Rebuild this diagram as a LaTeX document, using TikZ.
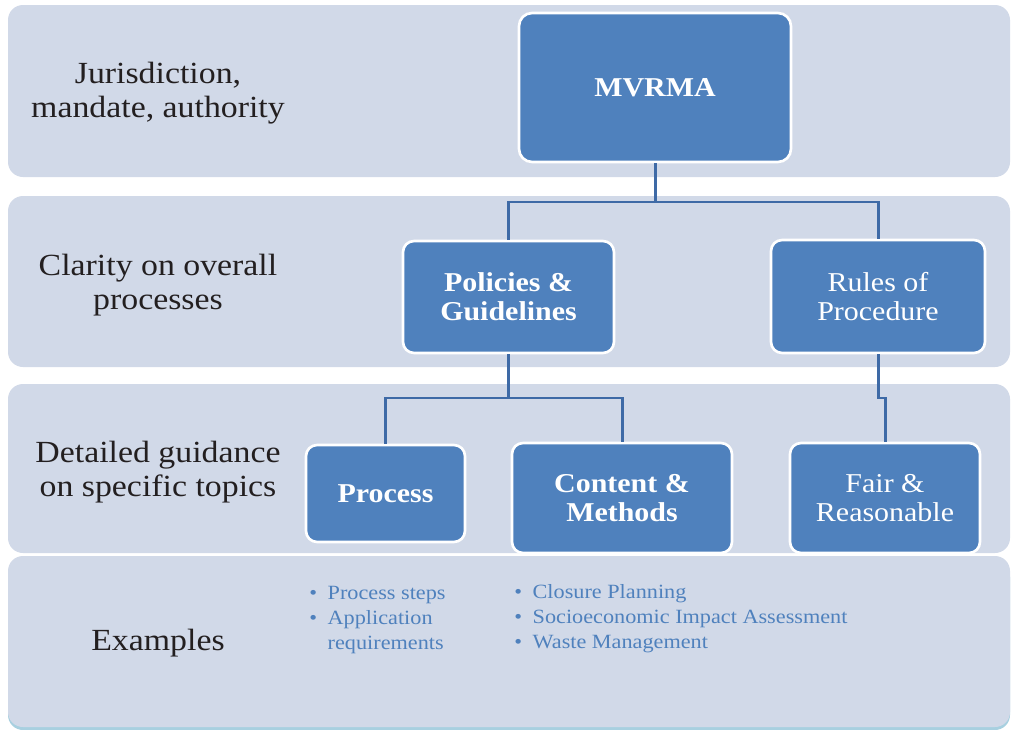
\documentclass[tikz,border=0pt]{standalone}
\usepackage{fontspec}
\setmainfont[FakeStretch=1.1]{Liberation Serif}
\usetikzlibrary{calc}
\definecolor{bandfill}{RGB}{209,217,232}
\definecolor{boxblue}{RGB}{79,129,189}
\definecolor{linkblue}{RGB}{62,106,166}
\definecolor{txtdark}{RGB}{35,31,32}
\definecolor{edgecyan}{RGB}{168,208,224}
\tikzset{band/.style={fill=bandfill,rounded corners=.3cm},
unit/.style={draw=white,line width=1.5pt,fill=boxblue,rounded corners=.22cm,text=white,align=center,font=\fontsize{15.5}{16.5}\selectfont},
bold/.style={font=\fontsize{15.5}{16.5}\selectfont\bfseries},
link/.style={draw=linkblue,line width=1.7pt},
lbl/.style={text=txtdark,align=center,font=\fontsize{17.5}{19}\selectfont},
ex/.style={text=boxblue,anchor=north west,inner sep=0pt,font=\fontsize{11.5}{14.2}\selectfont}}
\begin{document}
\begin{tikzpicture}[x=.02cm,y=-.02cm]
\useasboundingbox[fill=white] (0,0) rectangle (1011,730);
\fill[edgecyan,rounded corners=.3cm] (8,562) rectangle (1010,730);
\foreach \t/\b in {5/177,196/367,384/553,556/727}{\fill[band] (8,\t) rectangle (1010,\b);}
\node[lbl] (lvl1) at (158,93) {Jurisdiction,\\mandate, authority};
\node[lbl] (lvl2) at (158,285) {Clarity on overall\\processes};
\node[lbl] (lvl3) at (158,472) {Detailed guidance\\on specific topics};
\node[lbl] (lvl4) at (158,643) {Examples};
\node[unit,bold,minimum width=5.44cm,minimum height=2.98cm,rounded corners=.26cm] (mvrma) at (655,87.5) {MVRMA};
\node[unit,bold,minimum width=4.22cm,minimum height=2.24cm] (pol) at (508.5,297) {Policies \&\\Guidelines};
\node[unit,minimum width=4.28cm,minimum height=2.26cm] (rules) at (878,296.5) {Rules of\\Procedure};
\node[unit,bold,minimum width=3.18cm,minimum height=1.94cm] (proc) at (385.5,493.5) {Process};
\node[unit,bold,minimum width=4.4cm,minimum height=2.2cm] (cont) at (622,498) {Content \&\\Methods};
\node[unit,minimum width=3.8cm,minimum height=2.2cm] (fair) at (885,498) {Fair \&\\Reasonable};
\coordinate (j1) at (655,202); \coordinate (j2) at (508.5,398); \coordinate (j3) at (878,398);
\draw[link] (mvrma) -- (j1) -| (pol) (j1) -| (rules);
\draw[link] (pol) -- (j2) -| (proc) (j2) -| (cont);
\draw[link] (rules) -- (j3) -| (fair);
\node[ex] (ex1) at (309,582) {\begin{tabular}{@{}l@{\hspace{6pt}}l@{}}\textbullet&Process steps\\\textbullet&Application\\&requirements\end{tabular}};
\node[ex] (ex2) at (514,581) {\begin{tabular}{@{}l@{\hspace{6pt}}l@{}}\textbullet&Closure Planning\\\textbullet&Socioeconomic Impact Assessment\\\textbullet&Waste Management\end{tabular}};
\end{tikzpicture}
\end{document}
